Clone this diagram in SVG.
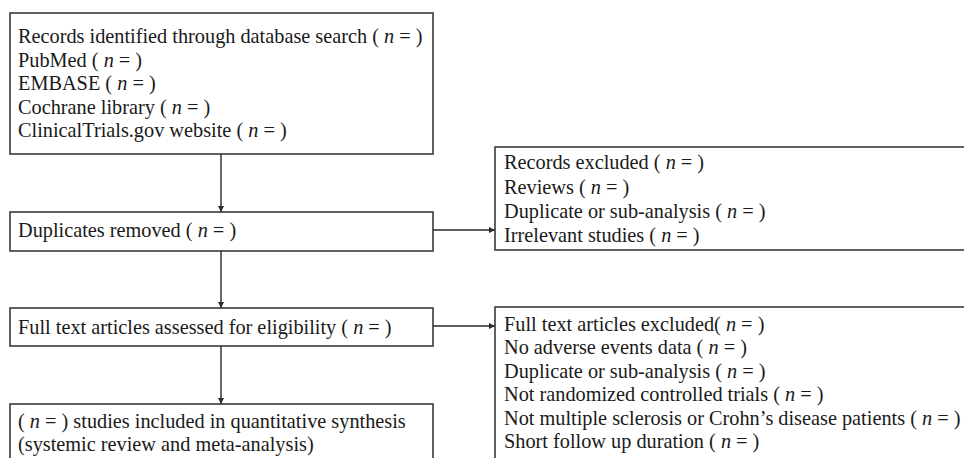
<svg xmlns="http://www.w3.org/2000/svg" width="964" height="458" viewBox="0 0 964 458">
<defs>
<style>
.box{fill:#fff;stroke:#3a3a3a;stroke-width:1.6}
.t{font-family:"Liberation Serif","Times New Roman",serif;font-size:20.3px;fill:#1a1a1a}
.i{font-style:italic}
.c{stroke:#2a2a2a;stroke-width:1.4;fill:none}
</style>
<marker id="ah" viewBox="0 0 10 10" refX="10" refY="5" markerWidth="6" markerHeight="6" markerUnits="userSpaceOnUse" orient="auto">
<path d="M0,0 L10,5 L0,10 z" fill="#2a2a2a"/>
</marker>
</defs>
<rect width="964" height="458" fill="#fff"/>
<g id="records">
<rect class="box" x="10" y="13" width="423" height="141"/>
<text class="t" x="18" y="43">Records identified through database search ( <tspan class="i">n</tspan> = )</text>
<text class="t" x="18" y="66.5">PubMed ( <tspan class="i">n</tspan> = )</text>
<text class="t" x="18" y="90">EMBASE ( <tspan class="i">n</tspan> = )</text>
<text class="t" x="18" y="113.5">Cochrane library ( <tspan class="i">n</tspan> = )</text>
<text class="t" x="18" y="137">ClinicalTrials.gov website ( <tspan class="i">n</tspan> = )</text>
</g>
<g id="duplicates">
<rect class="box" x="10" y="212" width="423" height="39"/>
<text class="t" x="18" y="237">Duplicates removed ( <tspan class="i">n</tspan> = )</text>
</g>
<g id="fulltext">
<rect class="box" x="10" y="308" width="423" height="38"/>
<text class="t" x="18" y="334">Full text articles assessed for eligibility ( <tspan class="i">n</tspan> = )</text>
</g>
<g id="included">
<rect class="box" x="10" y="404" width="423" height="70"/>
<text class="t" x="18" y="428">( <tspan class="i">n</tspan> = ) studies included in quantitative synthesis</text>
<text class="t" x="18" y="451">(systemic review and meta-analysis)</text>
</g>
<g id="excluded1">
<rect class="box" x="495" y="147" width="480" height="103"/>
<text class="t" x="504" y="169">Records excluded ( <tspan class="i">n</tspan> = )</text>
<text class="t" x="504" y="193.5">Reviews ( <tspan class="i">n</tspan> = )</text>
<text class="t" x="504" y="218">Duplicate or sub-analysis ( <tspan class="i">n</tspan> = )</text>
<text class="t" x="504" y="242">Irrelevant studies ( <tspan class="i">n</tspan> = )</text>
</g>
<g id="excluded2">
<rect class="box" x="495" y="307" width="480" height="170"/>
<text class="t" x="504" y="330.5">Full text articles excluded( <tspan class="i">n</tspan> = )</text>
<text class="t" x="504" y="354">No adverse events data ( <tspan class="i">n</tspan> = )</text>
<text class="t" x="504" y="377.5">Duplicate or sub-analysis ( <tspan class="i">n</tspan> = )</text>
<text class="t" x="504" y="401">Not randomized controlled trials ( <tspan class="i">n</tspan> = )</text>
<text class="t" x="504" y="424.5">Not multiple sclerosis or Crohn’s disease patients ( <tspan class="i">n</tspan> = )</text>
<text class="t" x="504" y="448">Short follow up duration ( <tspan class="i">n</tspan> = )</text>
</g>
<g id="connectors">
<line class="c" x1="221" y1="154" x2="221" y2="212" marker-end="url(#ah)"/>
<line class="c" x1="221" y1="251" x2="221" y2="308" marker-end="url(#ah)"/>
<line class="c" x1="221" y1="346" x2="221" y2="404" marker-end="url(#ah)"/>
<line class="c" x1="433" y1="230" x2="495" y2="230" marker-end="url(#ah)"/>
<line class="c" x1="433" y1="326" x2="495" y2="326" marker-end="url(#ah)"/>
</g>
</svg>
